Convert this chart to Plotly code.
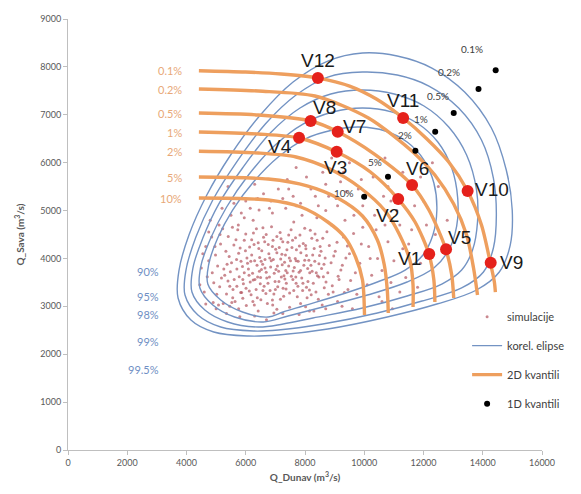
import plotly.graph_objects as go

# ---------------- data ----------------
# simulated pairs (Q_Dunav, Q_Sava)
sim_x = [5120, 5480, 5860, 6040, 6310, 6570, 6820, 7050, 7290, 7510, 7760, 8020, 8240, 8490, 8710,
         5330, 5690, 5950, 6180, 6440, 6690, 6930, 7170, 7420, 7640, 7890, 8130, 8370, 8600,
         5240, 5570, 5780, 6090, 6260, 6510, 6760, 6990, 7230, 7480, 7710, 7960, 8180, 8420, 8880,
         5050, 5410, 5640, 5920, 6130, 6380, 6620, 6870, 7110, 7340, 7590, 7830, 8070, 8310, 8560, 9020,
         5180, 5520, 5810, 6020, 6230, 6470, 6710, 6950, 7190, 7400, 7670, 7920, 8160, 8410, 8650,
         5350, 5730, 6060, 6350, 6600, 6840, 7080, 7310, 7560, 7800, 8050, 8280, 8540, 8770, 9150,
         4920, 5260, 5600, 5900, 6200, 6400, 6650, 6900, 7130, 7370, 7620, 7860, 8100, 8330, 8580,
         4980, 5400, 5700, 6000, 6290, 6530, 6780, 7020, 7260, 7530, 7740, 7990, 8230, 8470, 8820,
         5560, 5840, 6150, 6420, 6680, 6920, 7200, 7450, 7700, 7940, 8200, 8450, 8680, 9260,
         5150, 5460, 6580, 7050, 7620, 8020,
         4600, 4750, 4850, 4700, 4900, 5100, 5350, 5500, 5800, 5950, 6300, 6450, 6700, 6900, 7250,
         7350, 7800, 7900, 8300, 8400, 8700, 8900, 9100, 9300, 9450, 9500, 9700, 9900, 10100, 10200,
         9650, 9950, 10400, 10600, 10800, 11000, 11200, 10900, 8800, 8200, 7600, 7100, 6600, 6000,
         5600, 5200, 9200, 8600, 10300, 9800, 7400, 6300, 5400, 11500, 11700, 12100, 11400, 10500,
         9600, 4500, 4650, 4450, 5000, 9850, 9350, 8950, 10650, 12500, 12700, 11900, 9100, 8450,
         7850, 6850, 6250, 5750, 4800, 10950, 11600, 9500, 10700, 8900, 7700, 12300, 11300,
         6120, 6490, 6860, 7320, 7050, 6300, 5900, 7600, 6750, 7180, 6540, 5700, 8050, 7450, 6200,
         5020, 5290, 5440, 5610, 5760, 5890, 6010, 6170, 6280, 6390,
         6520, 6640, 6730, 6810, 6960, 7070, 7160, 7280, 7390, 7540,
         7680, 7770, 7850, 7990, 8090, 8210, 8340, 8470, 8620, 8740,
         8920, 9080, 9210, 9380, 9540, 5130, 5370, 5530, 5670, 5830,
         5990, 6110, 6240, 6360, 6460, 6580, 6690, 6800, 6910, 7010,
         7120, 7220, 7360, 7470, 7580, 7690, 7810, 7930, 8030, 8150,
         8260, 8380, 8510, 8640, 8790, 8970, 9120, 9330, 9430, 9640,
         4870, 4960, 5080, 5220, 5460, 5760, 6420, 6950, 7480, 8150,
         8700, 9050, 8350, 7700, 7250, 6800, 6400, 9400, 9900, 8700,
         8050, 7450, 9300, 10000, 10350, 10150, 10450, 10700, 10900, 11300,
         11600, 11800, 12000, 12400, 12800, 11100, 10800, 11900, 10250, 9750,
         9950, 9250, 10600, 11200, 5550, 5850, 6150, 4650, 4550, 4750,
         6650, 7000, 7350, 7700, 6500, 6900, 7250, 5950, 6250, 7850]
sim_y = [3410, 3720, 3290, 4010, 3560, 3880, 3330, 4120, 3640, 3950, 3420, 4270, 3730, 4060, 3510,
         4150, 3980, 4380, 3240, 4210, 3710, 3980, 3150, 4340, 3810, 3590, 3960, 3300, 4420,
         3060, 3350, 3620, 3780, 4530, 3140, 4290, 3520, 3870, 3280, 4180, 3860, 4590, 3640, 3910,
         3840, 4460, 3100, 3470, 4240, 3860, 3420, 4660, 3730, 4070, 3560, 4490, 3180, 4210, 3790, 4150,
         3590, 3910, 4220, 3020, 3690, 4020, 3590, 3260, 4410, 3700, 4000, 3330, 3700, 4380, 3390,
         3260, 4600, 3900, 3350, 4440, 3820, 3410, 3920, 4230, 3710, 4060, 3480, 4150, 3700, 3560,
         3490, 3780, 4280, 3170, 4070, 3610, 3980, 3130, 4230, 3480, 3330, 4120, 3520, 3940, 3030,
         4070, 3530, 3780, 4510, 3030, 3770, 4100, 3770, 3380, 4600, 3200, 3960, 4420, 3610, 4270,
         3180, 3940, 3510, 4330, 3270, 4380, 3610, 3840, 3480, 4310, 3860, 3150, 4010, 3860,
         4300, 3000, 4640, 2940, 4760, 2990,
         3300, 3950, 4450, 3620, 3080, 4700, 2850, 4900, 2780, 4850, 2800, 5010, 2720, 4950, 2850,
         5050, 2830, 4900, 2900, 4850, 2950, 4700, 3100, 4450, 3350, 4100, 3700, 4300, 3450, 4000,
         4900, 5100, 4600, 3750, 4350, 3950, 4700, 5200, 5300, 5450, 5300, 5450, 5350, 5200,
         5150, 5050, 5600, 5800, 5700, 5450, 5650, 5550, 5500, 4300, 5100, 4700, 3600, 3200,
         2950, 3800, 4250, 3450, 2950, 3900, 4800, 3300, 5300, 5500, 4200, 3900, 5100, 5100,
         5150, 5200, 4800, 4700, 4800, 2950, 5500, 6000, 6100, 6100, 5900, 6000, 5800,
         3320, 3470, 3950, 3570, 4460, 3950, 3560, 3740, 3480, 3990, 4160, 3420, 3400, 4490, 4390,
         3250, 3650, 4040, 3560, 4110, 3830, 3380, 3940, 4290, 3180,
         3940, 4350, 3060, 4010, 3690, 3840, 4540, 3210, 4180, 3630,
         4430, 3940, 3060, 4630, 3790, 3240, 4510, 3890, 3620, 4560,
         3430, 4340, 3760, 4010, 3540, 4500, 3880, 3080, 4390, 3290,
         4160, 3650, 3100, 4620, 3730, 3330, 4500, 3610, 3030, 4190,
         3520, 4090, 3360, 4010, 4380, 3610, 4260, 3480, 4200, 3340,
         4070, 3700, 4250, 3880, 3250, 4050, 3630, 3290, 4260, 4520,
         3700, 4250, 3030, 4620, 3420, 2950, 2900, 2860, 2980, 2900,
         5000, 5250, 5300, 5100, 5250, 5050, 5250, 5400, 5650, 5550,
         5700, 5450, 5800, 5300, 4900, 4250, 4000, 4700, 3500, 4200,
         4600, 3400, 5200, 4500, 4800, 5000, 5500, 5700, 3650, 3250,
         4650, 3000, 3100, 3300, 4650, 4950, 5050, 3050, 4100, 4550,
         3800, 3350, 3750, 3950, 3600, 4250, 4350, 3700, 3550, 3750]

# correlation "ellipses" (contours), outermost first
ell_labels = ["99.5%", "99%", "98%", "95%", "90%"]
ell_x = [
    [6092, 4920, 4150, 3715, 3749, 4083, 4686, 5489, 6493, 7598, 8769, 9941, 11112, 12283, 13388,
     14292, 14794, 14995, 14928, 14559, 13790, 12451, 10777, 8769, 7096, 6092],
    [6259, 5154, 4385, 3949, 3983, 4318, 4887, 5690, 6661, 7698, 8769, 9941, 11112, 12183, 13187,
     13957, 14359, 14459, 14359, 14024, 13288, 11949, 10443, 8602, 7096, 6259],
    [6426, 5389, 4619, 4184, 4217, 4552, 5087, 5891, 6828, 7832, 8870, 9941, 11012, 12016, 12852,
     13455, 13790, 13823, 13656, 13288, 12618, 11447, 9941, 8267, 7263, 6426],
    [6594, 5623, 4887, 4452, 4485, 4820, 5355, 6092, 6995, 7932, 8936, 9941, 10945, 11781, 12484,
     12953, 13154, 13120, 12852, 12350, 11447, 10108, 8602, 7430, 6594],
    [6761, 5891, 5154, 4719, 4753, 5054, 5556, 6259, 7096, 7999, 8936, 9840, 10710, 11447, 12016,
     12350, 12451, 12317, 11982, 11380, 10443, 9271, 7932, 7263, 6761],
]
ell_y = [
    [2380, 2464, 2714, 3174, 3758, 4489, 5324, 6160, 6995, 7684, 8122, 8289, 8227, 7976, 7475,
     6723, 5846, 5011, 4280, 3717, 3341, 3048, 2777, 2526, 2401, 2380],
    [2485, 2568, 2819, 3236, 3758, 4447, 5220, 6013, 6807, 7412, 7788, 7893, 7830, 7600, 7141,
     6473, 5679, 4907, 4218, 3717, 3383, 3111, 2861, 2631, 2506, 2485],
    [2568, 2673, 2923, 3299, 3800, 4427, 5136, 5888, 6619, 7141, 7433, 7517, 7433, 7183, 6744,
     6160, 5429, 4761, 4176, 3758, 3466, 3216, 2965, 2756, 2631, 2568],
    [2673, 2777, 3028, 3383, 3842, 4427, 5074, 5742, 6368, 6807, 7057, 7141, 7057, 6828, 6431,
     5888, 5262, 4677, 4176, 3800, 3508, 3236, 2986, 2798, 2673],
    [2777, 2881, 3132, 3466, 3884, 4427, 5011, 5596, 6118, 6494, 6682, 6744, 6661, 6431, 6055,
     5575, 5011, 4489, 4072, 3758, 3508, 3257, 3007, 2881, 2777],
]

# 2D quantile curves (AND-exceedance), from 0.1% to 10%
q2d_labels = ["0.1%", "0.2%", "0.5%", "1%", "2%", "5%", "10%"]
q2d_x = [
    [4418, 5991, 7196, 8434, 9505, 10409, 11313, 12116, 12852, 13489, 13957, 14258, 14392, 14426],
    [4418, 6426, 8334, 10141, 11681, 12384, 13020, 13455, 13689, 13823],
    [4418, 6426, 8200, 9104, 10342, 11614, 12183, 12752, 12953, 13020],
    [4418, 6426, 7799, 9070, 10208, 11146, 11715, 12183, 12350, 12384],
    [4418, 6426, 7698, 8836, 9874, 10710, 11179, 11547, 11647, 11647],
    [4418, 6761, 8100, 9104, 9941, 10443, 10677, 10777, 10811],
    [4418, 6761, 7865, 8769, 9338, 9706, 9941, 10008],
]
q2d_y = [
    [7920, 7893, 7851, 7767, 7600, 7329, 6932, 6494, 6013, 5408, 4698, 3905, 3508, 3299],
    [7538, 7496, 7392, 6932, 6201, 5742, 5136, 4489, 3800, 3236],
    [7037, 6995, 6870, 6646, 6180, 5533, 5011, 4197, 3654, 3174],
    [6640, 6598, 6515, 6222, 5805, 5241, 4761, 4092, 3550, 3090],
    [6237, 6201, 6118, 5867, 5471, 4990, 4510, 3946, 3445, 2986],
    [5700, 5658, 5512, 5262, 4886, 4385, 3863, 3341, 2860],
    [5262, 5220, 5074, 4761, 4447, 4030, 3550, 2819],
]

# 1D quantiles (marginal pairs)
q1d_labels = ["0.1%", "0.2%", "0.5%", "1%", "2%", "5%", "10%"]
q1d_x = [14436, 13857, 13020, 12395, 11726, 10801, 9997]
q1d_y = [7928, 7538, 7037, 6646, 6249, 5707, 5289]

# design events V1..V12
v_labels = ["V1", "V2", "V3", "V4", "V5", "V6", "V7", "V8", "V9", "V10", "V11", "V12"]
v_x = [12193, 11146, 9070, 7799, 12762, 11614, 9104, 8190, 14268, 13489, 11313, 8434]
v_y = [4092, 5241, 6230, 6520, 4191, 5533, 6646, 6870, 3911, 5408, 6932, 7767]

x_ticks = [0, 2000, 4000, 6000, 8000, 10000, 12000, 14000, 16000]
x_ticktext = ["0", "2000", "4000", "6000", "8000", "10000", "12000", "14000", "16000"]
y_ticks = [0, 1000, 2000, 3000, 4000, 5000, 6000, 7000, 8000, 9000]
y_ticktext = ["0", "1000", "2000", "3000", "4000", "5000", "6000", "7000", "8000", "9000"]

# ---------------- styles ----------------
BLUE = "#7393C3"
ORANGE = "#EE9F5E"
GREY = "#595959"
TICKFONT = dict(family="Lato, Liberation Sans, sans-serif", size=9, color=GREY)

fig = go.Figure()

fig.add_trace(go.Scatter(
    x=sim_x, y=sim_y, mode="markers", name="simulacije", legendgroup="a",
    marker=dict(size=3, color="rgba(180,85,95,0.7)"), hoverinfo="skip"))

for i, lab in enumerate(ell_labels):
    fig.add_trace(go.Scatter(
        x=ell_x[i], y=ell_y[i], mode="lines", name="korel. elipse", legendgroup="b",
        showlegend=(i == 0), line=dict(color=BLUE, width=1.4, shape="spline", smoothing=1.0),
        hoverinfo="skip"))

for i, lab in enumerate(q2d_labels):
    fig.add_trace(go.Scatter(
        x=q2d_x[i], y=q2d_y[i], mode="lines", name="2D kvantili", legendgroup="c",
        showlegend=(i == 0), line=dict(color=ORANGE, width=3.4, shape="spline", smoothing=0.8),
        hoverinfo="skip"))

fig.add_trace(go.Scatter(
    x=q1d_x, y=q1d_y, mode="markers", name="1D kvantili", legendgroup="d",
    marker=dict(size=6, color="black"), hoverinfo="skip"))

fig.add_trace(go.Scatter(
    x=v_x, y=v_y, mode="markers",
    marker=dict(size=12, color="#E5211B"), showlegend=False, hoverinfo="skip"))

# V labels (pixel offsets of label centre from its point)
v_dx = [-20, -11, -1, -19, 13, 5, 17, 14, 21, 24, 0, 0]
v_dy = [-4, -16, -16, -9, 12, 17, 5, 14, 0, 2, 18, 18]
for i, lab in enumerate(v_labels):
    fig.add_annotation(x=v_x[i], y=v_y[i], text=lab, showarrow=False,
                       xanchor="center", yanchor="middle", xshift=v_dx[i], yshift=v_dy[i],
                       font=dict(family="Liberation Sans, Arial, sans-serif", size=19, color="#1a1a1a"))

# 1D quantile labels (pixel offsets from their points)
q1d_dx = [-11, -17, -3, -5, -1, -4, -8]
q1d_dy = [13, 9, 9, 5, 8, 7, 4]
for i, lab in enumerate(q1d_labels):
    fig.add_annotation(x=q1d_x[i], y=q1d_y[i], text=lab, showarrow=False,
                       xanchor="right", yanchor="bottom" if i < 6 else "middle",
                       xshift=q1d_dx[i], yshift=q1d_dy[i],
                       font=dict(family="Lato, sans-serif", size=10, color="#404040"))

# 2D quantile labels on the left
for i, lab in enumerate(q2d_labels):
    fig.add_annotation(x=q2d_x[i][0], y=q2d_y[i][0], text=lab, showarrow=False,
                       xanchor="right", xshift=-15,
                       font=dict(family="Lato, sans-serif", size=11, color="#E8A878"))

# ellipse level labels (blue) stacked on the left
blue_label_pos = [0.413, 0.355, 0.295, 0.232, 0.167]
for i, lab in enumerate(reversed(ell_labels)):
    fig.add_annotation(x=0.196, y=blue_label_pos[i], xref="paper", yref="paper", text=lab,
                       showarrow=False, xanchor="right",
                       font=dict(family="Lato, sans-serif", size=11, color="#6F8FC4"))

# the page body has an 8 px margin; size/margins compensate so the plot area
# sits at x 68..546, y 19..450 of the window
fig.update_layout(
    width=573, height=486,
    margin=dict(l=60, r=35, t=11, b=44),
    paper_bgcolor="white", plot_bgcolor="white",
    font=dict(family="Lato, Liberation Sans, sans-serif", color=GREY),
    legend=dict(x=0.842, y=0.343, xanchor="left", yanchor="top",
                font=dict(family="Lato, sans-serif", size=11, color="#404040"),
                tracegroupgap=10, bgcolor="rgba(0,0,0,0)", itemwidth=30),
    xaxis=dict(range=[0, 16000], tickvals=x_ticks, ticktext=x_ticktext, showgrid=False,
               zeroline=False, automargin=False,
               showline=True, linecolor="#BFBFBF", ticks="outside", ticklen=4, tickcolor="#BFBFBF",
               tickfont=TICKFONT,
               title=dict(text="<b>Q_Dunav (m<sup>3</sup>/s)</b>", font=dict(size=10, color=GREY), standoff=7)),
    yaxis=dict(range=[0, 9000], tickvals=y_ticks, ticktext=y_ticktext, showgrid=False,
               zeroline=False, automargin=False,
               showline=True, linecolor="#BFBFBF", ticks="outside", ticklen=4, tickcolor="#BFBFBF",
               tickfont=TICKFONT,
               title=dict(text="<b>Q_Sava (m<sup>3</sup>/s)</b>", font=dict(size=10, color=GREY), standoff=13)),
)

fig.write_html("out.html")
